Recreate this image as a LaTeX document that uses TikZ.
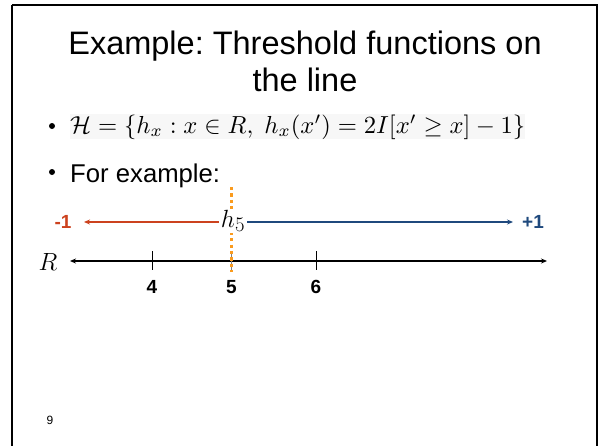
\documentclass[tikz,border=0pt]{standalone}
\usepackage{fontspec}
\usepackage{amsmath,amssymb}
\setmainfont{Liberation Sans}
\frenchspacing
\usetikzlibrary{arrows.meta}
\definecolor{negred}{RGB}{204,66,30}
\definecolor{posblue}{RGB}{31,73,125}
\definecolor{throrange}{RGB}{250,155,30}
\tikzset{
  txt/.style={inner sep=0pt, anchor=base},
  numlbl/.style={inner sep=0pt, font=\fontsize{19}{21}\selectfont\bfseries},
  arr/.style={line width=1.4pt, -{Stealth[length=6pt,width=5pt]}},
  tick/.style={line width=0.8pt},
  bul/.style={circle, fill=black, inner sep=0pt, minimum size=6pt}
}
\begin{document}
\begin{tikzpicture}[x=1pt,y=-1pt]
\useasboundingbox (0,0) rectangle (600,445);
\draw[line width=2pt] (12,5) -- (12,460) (12,5) -- (597,5) -- (597,460);
% title
\node[txt] (t1) at (305,54) {\fontsize{32.5}{36}\selectfont Example: Threshold functions on};
\node[txt] (t2) at (305,91) {\fontsize{32.5}{36}\selectfont the line};
% bullets
\node[bul] (b1) at (52,126) {};
\node[bul] (b2) at (52,172) {};
\node[anchor=base west, inner sep=0pt, fill=black!3] (f1) at (70,133)
  {\resizebox{455pt}{!}{$\mathcal{H}=\{h_x : x\in R,\ h_x(x')=2I[x'\geq x]-1\}$}};
\node[anchor=base west, inner sep=0pt] (f2) at (70,182) {\fontsize{25.7}{28}\selectfont For example:};
% number line
\coordinate (Lend) at (70,261);
\coordinate (Rend) at (547,261);
\draw[line width=1.4pt, {Stealth[length=6pt,width=5pt]}-{Stealth[length=6pt,width=5pt]}] (Lend) -- (Rend);
\node[inner sep=0pt] (R) at (48,262) {\fontsize{23}{25}\selectfont$R$};
\coordinate (t4a) at (152,251); \coordinate (t4b) at (152,270);
\coordinate (t5a) at (231.5,251); \coordinate (t5b) at (231.5,272);
\coordinate (t6a) at (316,251); \coordinate (t6b) at (316,270);
\draw[tick] (t4a) -- (t4b);
\draw[tick, gray] (t5a) -- (t5b);
\draw[tick] (t6a) -- (t6b);
\node[numlbl] (l4) at (152,287) {4};
\node[numlbl] (l5) at (231.5,287) {5};
\node[numlbl] (l6) at (316,287) {6};
% threshold
\coordinate (otop) at (231.5,187);
\coordinate (obot) at (231.5,272);
\draw[throrange, line width=3pt, dash pattern=on 3.2pt off 3.2pt] (otop) -- (obot);
\node[inner sep=1pt, fill=white, anchor=base] (h5) at (233,227) {\fontsize{28}{30}\selectfont$h_5$};
\coordinate (redend) at (84,222);
\coordinate (blueend) at (513,222);
\draw[arr, negred] (h5.west |- redend) ++(-1,0) -- (redend);
\draw[arr, posblue] (h5.east |- blueend) ++(1,0) -- (blueend);
\node[numlbl, text=negred] (m1) at (63,222) {-1};
\node[numlbl, text=posblue] (p1) at (533,222) {+1};
% page number
\node[inner sep=0pt] (pg) at (50,420) {\fontsize{12}{14}\selectfont 9};
\end{tikzpicture}
\end{document}
